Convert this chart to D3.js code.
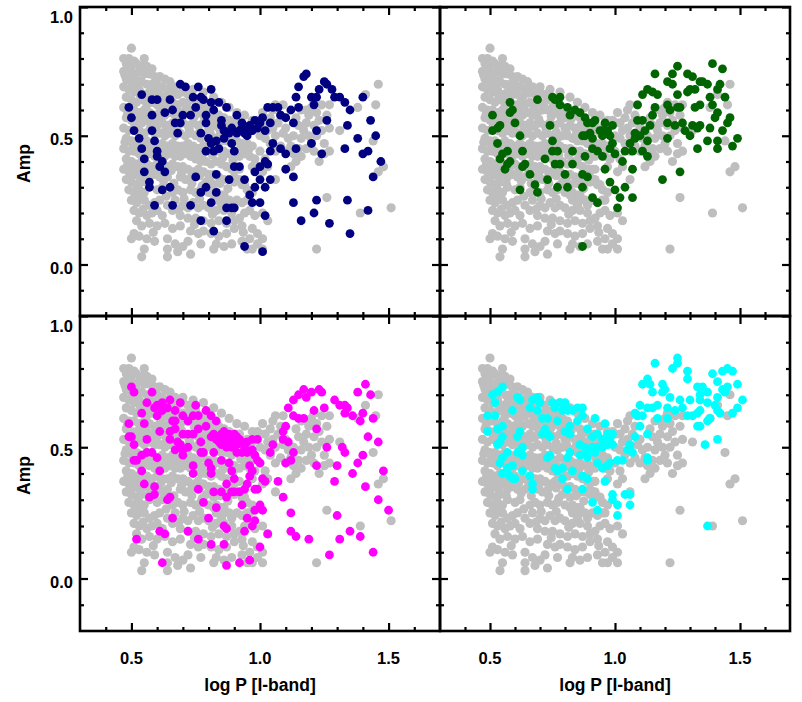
<!DOCTYPE html>
<html><head><meta charset="utf-8">
<script src="https://cdn.jsdelivr.net/npm/d3@7"></script>
<style>
body{margin:0;background:#fff}
svg{display:block}
text{font-family:"Liberation Sans",Arial,Helvetica,sans-serif;font-weight:bold;fill:#000}
</style>
</head><body>
<svg id="c" width="802" height="702"></svg>
<script>
// ---- data: [log P, Amp] ----
const grayPts = [
[0.50,0.84],[0.55,0.80],
[0.47,0.80],[0.49,0.80],[0.51,0.79],[0.48,0.78],[0.50,0.77],[0.52,0.78],[0.54,0.77],[0.56,0.77],[0.58,0.76],
[0.47,0.75],[0.49,0.75],[0.51,0.74],[0.53,0.75],[0.55,0.74],[0.57,0.74],[0.59,0.73],[0.61,0.73],[0.63,0.72],[0.65,0.71],
[0.48,0.72],[0.50,0.71],[0.52,0.72],[0.54,0.71],[0.56,0.70],[0.58,0.70],[0.60,0.70],[0.62,0.69],[0.64,0.68],[0.67,0.69],
[0.47,0.69],[0.49,0.68],[0.51,0.67],[0.53,0.68],[0.55,0.66],[0.57,0.67],[0.59,0.66],[0.61,0.66],[0.63,0.65],[0.68,0.66],[0.70,0.67],[0.72,0.66],
[0.48,0.65],[0.50,0.64],[0.52,0.63],[0.54,0.64],[0.56,0.62],[0.58,0.63],[0.60,0.62],[0.62,0.61],[0.64,0.62],[0.66,0.63],[0.68,0.62],[0.70,0.63],[0.73,0.64],[0.75,0.64],[0.77,0.62],[0.79,0.61],[0.81,0.60],
[0.70,0.69],[0.74,0.68],[0.78,0.67],[0.82,0.65],[0.85,0.63],[0.88,0.61],[0.91,0.59],[0.94,0.58],[0.97,0.56],[1.00,0.55],
[0.47,0.61],[0.49,0.60],[0.51,0.60],[0.53,0.59],[0.55,0.60],[0.57,0.59],[0.59,0.58],[0.61,0.59],[0.63,0.58],[0.65,0.59],[0.67,0.58],[0.69,0.59],[0.71,0.60],[0.73,0.60],[0.75,0.61],[0.76,0.59],[0.78,0.58],[0.80,0.57],[0.82,0.58],[0.84,0.58],[0.86,0.57],[0.88,0.56],[0.90,0.55],[0.92,0.55],
[0.48,0.57],[0.50,0.56],[0.52,0.56],[0.54,0.55],[0.56,0.56],[0.58,0.55],[0.60,0.54],[0.62,0.55],[0.64,0.54],[0.66,0.55],[0.68,0.54],[0.70,0.55],[0.72,0.54],[0.74,0.55],[0.76,0.54],[0.78,0.55],[0.80,0.53],[0.82,0.54],[0.84,0.53],[0.86,0.53],[0.88,0.52],[0.90,0.52],[0.93,0.52],[0.95,0.53],[0.97,0.52],
[0.47,0.53],[0.49,0.52],[0.51,0.53],[0.53,0.52],[0.55,0.51],[0.57,0.52],[0.59,0.51],[0.61,0.51],[0.63,0.50],[0.65,0.51],[0.67,0.50],[0.69,0.51],[0.71,0.50],[0.73,0.51],[0.75,0.50],[0.77,0.49],[0.79,0.50],[0.81,0.50],[0.83,0.49],[0.85,0.48],[0.87,0.48],[0.89,0.47],[0.91,0.48],[0.93,0.47],[0.95,0.47],[0.97,0.46],
[0.48,0.49],[0.50,0.48],[0.52,0.48],[0.54,0.47],[0.56,0.48],[0.58,0.47],[0.60,0.46],[0.62,0.47],[0.64,0.46],[0.66,0.47],[0.68,0.46],[0.70,0.46],[0.72,0.47],[0.74,0.46],[0.76,0.45],[0.78,0.46],[0.80,0.45],[0.82,0.45],[0.84,0.44],[0.86,0.44],[0.88,0.43],[0.90,0.43],[0.92,0.42],[0.94,0.43],[0.96,0.42],
[0.47,0.45],[0.49,0.44],[0.51,0.44],[0.53,0.43],[0.55,0.44],[0.57,0.43],[0.59,0.42],[0.61,0.43],[0.63,0.42],[0.65,0.43],[0.67,0.42],[0.69,0.42],[0.71,0.43],[0.73,0.42],[0.75,0.41],[0.77,0.40],[0.79,0.40],[0.81,0.39],[0.83,0.40],[0.85,0.39],[0.87,0.38],[0.89,0.37],[0.92,0.37],
[0.48,0.41],[0.50,0.40],[0.52,0.39],[0.54,0.40],[0.56,0.39],[0.58,0.38],[0.60,0.39],[0.62,0.38],[0.64,0.38],[0.66,0.39],[0.68,0.38],[0.70,0.38],[0.72,0.37],[0.74,0.36],[0.76,0.37],[0.78,0.36],[0.80,0.35],[0.82,0.35],[0.84,0.34],[0.86,0.33],[0.88,0.33],[0.90,0.32],[0.93,0.31],
[0.47,0.37],[0.49,0.36],[0.51,0.36],[0.53,0.35],[0.55,0.36],[0.57,0.34],[0.59,0.35],[0.61,0.34],[0.64,0.34],[0.69,0.34],[0.71,0.33],
[0.91,0.37],[0.90,0.34],[0.92,0.33],[0.94,0.31],[0.95,0.29],[0.97,0.28],[0.95,0.25],[0.93,0.24],[0.91,0.25],[0.89,0.23],[0.85,0.23],[0.83,0.25],[0.85,0.27],[0.83,0.28],[0.82,0.31],[0.79,0.32],
[0.48,0.33],[0.50,0.32],[0.52,0.31],[0.54,0.32],[0.49,0.29],[0.51,0.28],[0.53,0.29],[0.55,0.28],[0.57,0.30],[0.60,0.29],[0.62,0.30],[0.66,0.28],[0.68,0.29],[0.70,0.28],[0.73,0.29],[0.75,0.28],[0.77,0.29],[0.80,0.28],[0.82,0.27],[0.86,0.27],[0.88,0.25],[0.96,0.25],
[0.50,0.25],[0.52,0.24],[0.55,0.25],[0.57,0.23],[0.59,0.24],[0.61,0.25],[0.64,0.23],[0.67,0.25],[0.70,0.23],[0.72,0.22],[0.74,0.24],[0.76,0.22],[0.78,0.23],[0.80,0.22],[0.83,0.21],[0.86,0.21],[0.89,0.20],
[0.51,0.21],[0.53,0.20],[0.56,0.19],[0.58,0.20],[0.60,0.21],[0.62,0.19],[0.66,0.21],[0.69,0.19],[0.72,0.18],[0.75,0.18],[0.78,0.17],[0.81,0.16],[0.84,0.17],[0.87,0.16],[0.90,0.17],[0.92,0.18],[0.94,0.20],[0.96,0.21],[0.98,0.19],[1.01,0.20],[1.03,0.17],
[0.52,0.17],[0.54,0.15],[0.57,0.16],[0.60,0.15],[0.63,0.16],[0.66,0.14],[0.69,0.15],[0.73,0.13],[0.76,0.12],[0.78,0.13],[0.81,0.12],[0.84,0.11],[0.87,0.12],[0.90,0.14],[0.93,0.15],[0.97,0.14],[0.99,0.12],[1.01,0.10],
[0.51,0.12],[0.50,0.10],[0.53,0.11],[0.56,0.10],[0.59,0.09],[0.64,0.10],[0.67,0.08],[0.70,0.07],[0.72,0.09],[0.83,0.08],[0.86,0.07],[0.89,0.08],[0.93,0.09],[0.96,0.10],[0.99,0.08],[1.01,0.06],[0.97,0.06],[0.95,0.06],
[0.55,0.06],[0.54,0.03],[0.64,0.06],[0.64,0.03],[0.68,0.05],[0.73,0.04],[0.77,0.08],[0.82,0.06],
[0.475,0.735],[0.495,0.715],[0.515,0.695],[0.535,0.655],[0.565,0.645],[0.595,0.685],[0.625,0.635],[0.655,0.665],[0.675,0.605],[0.715,0.625],[0.745,0.575],[0.785,0.595],[0.825,0.565],[0.865,0.545],[0.905,0.535],[0.945,0.505],
[0.485,0.585],[0.515,0.545],[0.545,0.575],[0.575,0.535],[0.605,0.565],[0.635,0.525],[0.665,0.535],[0.695,0.565],[0.725,0.525],[0.765,0.515],[0.805,0.515],[0.845,0.505],[0.885,0.485],[0.925,0.455],[0.955,0.445],
[0.475,0.475],[0.505,0.465],[0.535,0.455],[0.565,0.455],[0.595,0.445],[0.625,0.445],[0.655,0.445],[0.685,0.445],[0.715,0.445],[0.745,0.435],[0.775,0.425],[0.815,0.425],[0.855,0.415],[0.895,0.405],
[0.485,0.385],[0.515,0.375],[0.545,0.375],[0.575,0.365],[0.615,0.365],[0.655,0.365],[0.695,0.355],[0.735,0.345],[0.765,0.345],[0.805,0.335],[0.845,0.315],[0.875,0.295],
[0.505,0.345],[0.535,0.335],[0.565,0.315],[0.625,0.325],[0.665,0.315],[0.735,0.315],[0.775,0.305],
[0.525,0.265],[0.635,0.265],[0.705,0.255],[0.765,0.255],[0.855,0.245],[0.545,0.215],[0.685,0.215],[0.815,0.195],[0.585,0.125],[0.745,0.155],[0.935,0.125],
[1.02,0.55],[1.04,0.57],[1.05,0.53],[1.06,0.50],[1.07,0.55],[1.08,0.58],[1.09,0.62],[1.10,0.53],[1.11,0.49],[1.12,0.46],[1.13,0.43],[1.14,0.40],[1.12,0.38],[1.15,0.45],[1.16,0.49],[1.17,0.52],[1.18,0.55],[1.19,0.58],[1.20,0.61],[1.21,0.63],[1.22,0.59],[1.23,0.56],[1.24,0.52],[1.22,0.50],[1.20,0.47],[1.18,0.45],[1.16,0.42],[1.19,0.50],[1.25,0.43],[1.27,0.44],[1.23,0.40],[1.24,0.62],[1.26,0.58],[1.27,0.53],[1.10,0.44],[1.08,0.46],[1.06,0.44],[1.04,0.47],[1.02,0.49],[1.00,0.50],[0.99,0.56],[1.01,0.59],[1.05,0.60],[1.06,0.62],[1.14,0.57],[1.16,0.60],[1.27,0.62],
[1.03,0.52],[1.09,0.51],[1.13,0.50],[1.15,0.54],[1.21,0.54],[1.18,0.60],[1.25,0.47],[1.21,0.44],
[1.02,0.41],[1.03,0.38],[1.01,0.36],[1.06,0.33],[1.00,0.44],[0.98,0.41],[0.97,0.38],
[1.31,0.52],[1.46,0.70],[1.41,0.66],[1.45,0.62],[1.38,0.61],[1.44,0.48],[1.46,0.36],[1.48,0.38],[1.51,0.22],[1.39,0.20],[1.26,0.26],[1.22,0.06]
];
const navyPts = [
[0.54,0.66],[0.49,0.61],[0.50,0.57],[0.51,0.52],[0.53,0.49],[0.54,0.45],[0.55,0.41],[0.55,0.36],[0.57,0.32],[0.57,0.30],[0.59,0.23],[0.58,0.58],[0.58,0.52],[0.59,0.48],[0.60,0.44],[0.60,0.42],[0.62,0.40],[0.61,0.38],[0.63,0.36],[0.62,0.29],[0.65,0.30],[0.66,0.23],[0.58,0.64],[0.60,0.64],[0.63,0.59],[0.65,0.64],[0.66,0.60],[0.67,0.55],[0.69,0.55],[0.68,0.51],[0.69,0.70],[0.71,0.69],[0.70,0.58],[0.73,0.58],[0.74,0.65],[0.76,0.69],[0.77,0.65],[0.75,0.61],[0.78,0.64],[0.79,0.58],[0.79,0.55],[0.77,0.51],[0.80,0.49],[0.81,0.68],[0.81,0.63],[0.82,0.60],[0.84,0.63],[0.85,0.56],[0.87,0.61],[0.91,0.58],[0.82,0.44],[0.81,0.47],[0.83,0.48],[0.86,0.49],[0.88,0.51],[0.89,0.47],[0.90,0.44],[0.91,0.51],[0.93,0.53],[0.94,0.51],[0.96,0.54],[0.97,0.52],[0.98,0.56],[1.00,0.55],[1.01,0.57],[1.02,0.52],[1.04,0.55],[1.03,0.61],[1.05,0.61],[1.07,0.61],[1.08,0.58],[1.10,0.57],[1.13,0.55],[1.12,0.60],[1.15,0.61],[1.14,0.65],[1.15,0.69],[1.17,0.73],[1.18,0.74],[1.20,0.65],[1.21,0.62],[1.22,0.65],[1.23,0.68],[1.25,0.71],[1.26,0.70],[1.28,0.68],[1.29,0.65],[1.31,0.65],[1.33,0.63],[1.35,0.60],[1.40,0.65],[1.43,0.56],[1.26,0.56],[1.22,0.52],[1.20,0.47],[1.14,0.45],[1.24,0.43],[1.33,0.45],[1.34,0.54],[1.38,0.49],[1.45,0.50],[1.40,0.43],[1.42,0.44],[1.47,0.40],[1.44,0.34],[1.42,0.21],[1.34,0.25],[1.35,0.12],[1.27,0.16],[1.21,0.20],[1.22,0.25],[1.16,0.17],[1.13,0.24],[1.13,0.34],[1.10,0.37],[1.10,0.43],[1.05,0.47],[1.08,0.45],[1.04,0.44],[1.03,0.39],[1.02,0.40],[1.00,0.38],[0.98,0.36],[1.00,0.33],[1.02,0.30],[1.04,0.33],[0.98,0.30],[0.96,0.27],[0.97,0.24],[1.00,0.24],[1.02,0.19],[1.01,0.05],[0.94,0.07],[0.87,0.17],[0.87,0.22],[0.90,0.22],[0.88,0.33],[0.90,0.38],[0.92,0.38],[0.94,0.33],[0.89,0.22],[0.83,0.28],[0.83,0.35],[0.79,0.30],[0.77,0.28],[0.75,0.34],[0.81,0.24],[0.82,0.13],[0.77,0.17],[0.73,0.23],[0.85,0.54],[0.84,0.45],[0.79,0.44],
[0.92,0.52],[0.95,0.50],[0.96,0.52],[0.99,0.53],[0.93,0.55],[0.86,0.52],[0.89,0.53]
];
const greenPts = [
[0.51,0.58],[0.51,0.52],[0.53,0.53],[0.54,0.54],[0.53,0.47],[0.58,0.63],[0.59,0.60],[0.58,0.59],[0.60,0.55],[0.62,0.50],[0.63,0.44],[0.57,0.44],[0.55,0.43],[0.54,0.41],[0.58,0.40],[0.57,0.39],[0.56,0.37],[0.64,0.39],[0.63,0.38],[0.66,0.35],[0.68,0.31],[0.62,0.29],[0.69,0.28],[0.69,0.64],[0.74,0.54],[0.75,0.48],[0.75,0.44],[0.77,0.44],[0.76,0.39],[0.78,0.39],[0.73,0.33],[0.77,0.30],[0.80,0.35],[0.81,0.30],[0.83,0.44],[0.83,0.39],[0.75,0.65],[0.76,0.64],[0.78,0.65],[0.78,0.62],[0.81,0.61],[0.82,0.58],[0.84,0.60],[0.86,0.59],[0.88,0.57],[0.89,0.55],[0.91,0.55],[0.92,0.56],[0.88,0.50],[0.90,0.51],[0.91,0.45],[0.93,0.44],[0.95,0.50],[0.94,0.52],[0.96,0.55],[0.97,0.52],[0.99,0.54],[0.98,0.50],[0.99,0.47],[0.98,0.45],[0.88,0.42],[0.87,0.35],[0.89,0.34],[0.87,0.30],[0.91,0.26],[0.93,0.24],[0.95,0.42],[0.96,0.37],[0.98,0.32],[1.00,0.43],[1.03,0.40],[1.00,0.29],[1.04,0.30],[1.02,0.26],[1.01,0.22],[1.07,0.26],[1.07,0.37],[1.04,0.44],[1.07,0.44],[1.06,0.47],[1.08,0.49],[1.08,0.51],[1.10,0.50],[1.11,0.44],[1.13,0.42],[1.13,0.48],[1.12,0.52],[1.14,0.54],[1.09,0.56],[1.11,0.56],[1.15,0.58],[1.09,0.62],[1.16,0.61],[1.11,0.66],[1.13,0.68],[1.15,0.67],[1.17,0.66],[1.16,0.74],[1.21,0.71],[1.23,0.74],[1.25,0.77],[1.23,0.70],[1.25,0.66],[1.21,0.62],[1.22,0.60],[1.25,0.61],[1.26,0.61],[1.21,0.55],[1.21,0.49],[1.24,0.54],[1.27,0.55],[1.26,0.36],[1.19,0.33],[1.28,0.52],[1.30,0.50],[1.31,0.54],[1.33,0.53],[1.34,0.54],[1.33,0.45],[1.37,0.48],[1.38,0.53],[1.41,0.59],[1.40,0.57],[1.39,0.62],[1.41,0.48],[1.41,0.45],[1.43,0.52],[1.45,0.55],[1.46,0.57],[1.47,0.46],[1.49,0.49],[1.44,0.65],[1.42,0.70],[1.41,0.68],[1.37,0.70],[1.35,0.71],[1.34,0.71],[1.31,0.73],[1.29,0.74],[1.30,0.68],[1.29,0.67],[1.32,0.68],[1.38,0.65],[1.39,0.78],[1.43,0.76],[1.34,0.62],[1.32,0.61],[0.87,0.07],[0.72,0.41],[0.87,0.50],[0.91,0.49],[0.95,0.52]
];
const magentaPts = [
[0.50,0.73],[0.51,0.71],[0.58,0.71],[0.56,0.67],[0.54,0.63],[0.55,0.59],[0.49,0.59],[0.49,0.54],[0.51,0.51],[0.50,0.54],[0.56,0.53],[0.61,0.56],[0.60,0.62],[0.59,0.65],[0.62,0.67],[0.65,0.68],[0.64,0.65],[0.67,0.64],[0.69,0.67],[0.70,0.62],[0.72,0.60],[0.74,0.62],[0.75,0.66],[0.76,0.62],[0.79,0.64],[0.81,0.62],[0.83,0.60],[0.79,0.58],[0.76,0.57],[0.74,0.55],[0.72,0.55],[0.70,0.55],[0.67,0.57],[0.65,0.56],[0.66,0.60],[0.77,0.52],[0.81,0.54],[0.82,0.55],[0.83,0.53],[0.85,0.55],[0.86,0.52],[0.87,0.54],[0.89,0.52],[0.90,0.55],[0.92,0.53],[0.93,0.52],[0.95,0.52],[0.85,0.51],[0.87,0.50],[0.89,0.50],[0.91,0.48],[0.93,0.48],[0.95,0.48],[0.97,0.49],[0.99,0.53],[0.98,0.47],[0.99,0.45],[0.96,0.43],[0.97,0.41],[0.96,0.39],[0.95,0.36],[0.98,0.34],[0.99,0.34],[1.01,0.38],[1.02,0.37],[0.94,0.34],[0.92,0.33],[0.90,0.33],[0.89,0.33],[0.87,0.31],[0.85,0.33],[0.82,0.33],[0.85,0.45],[0.88,0.44],[0.89,0.41],[0.90,0.38],[0.87,0.36],[0.81,0.40],[0.80,0.44],[0.81,0.42],[0.82,0.48],[0.78,0.48],[0.77,0.48],[0.74,0.43],[0.74,0.40],[0.76,0.34],[0.78,0.29],[0.83,0.27],[0.80,0.23],[0.76,0.15],[0.72,0.18],[0.81,0.13],[0.86,0.13],[0.87,0.05],[0.87,0.19],[0.86,0.20],[0.93,0.28],[0.95,0.23],[0.97,0.20],[0.98,0.22],[0.94,0.18],[1.00,0.28],[0.98,0.26],[1.01,0.26],[1.03,0.17],[1.00,0.12],[0.96,0.07],[0.92,0.06],[0.66,0.23],[0.61,0.18],[0.63,0.17],[0.52,0.15],[0.62,0.06],[0.57,0.31],[0.59,0.32],[0.64,0.30],[0.65,0.31],[0.55,0.36],[0.59,0.35],[0.54,0.41],[0.61,0.41],[0.52,0.45],[0.54,0.47],[0.56,0.48],[0.58,0.48],[0.60,0.46],[0.51,0.45],[0.68,0.52],[0.69,0.51],[0.70,0.49],[0.72,0.50],[0.70,0.47],[0.67,0.49],[0.65,0.53],[0.67,0.60],[0.60,0.66],[0.62,0.64],[1.05,0.51],[1.04,0.48],[1.07,0.37],[1.09,0.31],[1.12,0.25],[1.12,0.18],[1.14,0.16],[1.19,0.15],[1.27,0.09],[1.30,0.24],[1.31,0.15],[1.35,0.18],[1.39,0.16],[1.44,0.10],[1.50,0.26],[1.46,0.30],[1.41,0.35],[1.48,0.41],[1.38,0.44],[1.40,0.47],[1.36,0.40],[1.33,0.48],[1.32,0.50],[1.30,0.43],[1.26,0.50],[1.22,0.43],[1.29,0.37],[1.46,0.52],[1.42,0.54],[1.44,0.61],[1.40,0.63],[1.39,0.60],[1.36,0.62],[1.34,0.65],[1.33,0.66],[1.31,0.66],[1.33,0.63],[1.29,0.68],[1.25,0.65],[1.21,0.64],[1.22,0.57],[1.24,0.71],[1.23,0.72],[1.20,0.71],[1.17,0.72],[1.18,0.69],[1.15,0.70],[1.13,0.68],[1.11,0.65],[1.13,0.62],[1.15,0.61],[1.17,0.61],[1.10,0.58],[1.09,0.56],[1.09,0.53],[1.11,0.52],[1.13,0.48],[1.12,0.45],[1.10,0.44],[1.41,0.74],[1.38,0.71],[1.43,0.70],[1.00,0.44],
[0.86,0.56],[0.88,0.55],[0.91,0.54],[0.84,0.52],[0.88,0.53],[0.91,0.51],[0.94,0.50],[0.97,0.53]
];
const cyanPts = [
[0.51,0.70],[0.53,0.71],[0.55,0.73],[0.52,0.67],[0.49,0.62],[0.52,0.62],[0.49,0.56],[0.53,0.57],[0.55,0.58],[0.59,0.64],[0.61,0.69],[0.62,0.68],[0.66,0.65],[0.67,0.68],[0.69,0.69],[0.70,0.67],[0.69,0.64],[0.71,0.61],[0.73,0.61],[0.75,0.67],[0.76,0.65],[0.78,0.67],[0.80,0.67],[0.81,0.65],[0.79,0.64],[0.81,0.64],[0.77,0.60],[0.83,0.64],[0.85,0.65],[0.87,0.65],[0.87,0.62],[0.85,0.60],[0.82,0.58],[0.80,0.56],[0.82,0.55],[0.92,0.61],[0.96,0.59],[0.89,0.57],[0.91,0.54],[0.93,0.55],[0.95,0.53],[0.97,0.55],[0.99,0.55],[0.98,0.53],[0.99,0.51],[0.97,0.51],[0.95,0.50],[0.93,0.50],[0.91,0.50],[0.88,0.50],[0.89,0.48],[0.92,0.48],[0.89,0.46],[0.86,0.47],[0.82,0.48],[0.81,0.46],[0.74,0.54],[0.73,0.55],[0.71,0.55],[0.72,0.57],[0.62,0.56],[0.61,0.54],[0.55,0.54],[0.54,0.52],[0.53,0.51],[0.63,0.50],[0.61,0.48],[0.63,0.47],[0.57,0.48],[0.55,0.46],[0.54,0.44],[0.59,0.43],[0.57,0.42],[0.55,0.40],[0.58,0.39],[0.60,0.38],[0.59,0.38],[0.63,0.41],[0.66,0.39],[0.67,0.36],[0.67,0.34],[0.73,0.46],[0.74,0.47],[0.76,0.42],[0.77,0.41],[0.79,0.42],[0.79,0.38],[0.81,0.34],[0.83,0.41],[0.87,0.39],[0.89,0.38],[0.87,0.34],[0.93,0.44],[0.95,0.42],[0.97,0.43],[0.98,0.44],[1.01,0.45],[1.03,0.45],[0.96,0.37],[0.99,0.32],[0.99,0.30],[1.01,0.28],[1.04,0.32],[1.06,0.32],[1.06,0.28],[1.01,0.24],[0.91,0.29],[0.93,0.26],[0.86,0.51],
[1.05,0.49],[1.07,0.48],[1.06,0.51],[1.08,0.54],[1.13,0.46],[1.13,0.45],[1.13,0.55],[1.10,0.58],[1.08,0.63],[1.09,0.62],[1.11,0.62],[1.10,0.66],[1.13,0.65],[1.15,0.65],[1.17,0.66],[1.17,0.61],[1.21,0.61],[1.21,0.65],[1.24,0.64],[1.26,0.68],[1.27,0.65],[1.29,0.62],[1.31,0.62],[1.33,0.63],[1.34,0.64],[1.37,0.60],[1.38,0.61],[1.41,0.64],[1.42,0.63],[1.40,0.66],[1.37,0.67],[1.34,0.68],[1.30,0.68],[1.33,0.58],[1.34,0.58],[1.36,0.51],[1.41,0.53],[1.37,0.20],[1.47,0.63],[1.49,0.65],[1.51,0.68],[1.41,0.69],[1.43,0.72],[1.44,0.71],[1.45,0.73],[1.49,0.74],[1.47,0.79],[1.45,0.80],[1.43,0.79],[1.41,0.75],[1.39,0.78],[1.35,0.73],[1.33,0.73],[1.37,0.71],[1.34,0.70],[1.29,0.79],[1.29,0.76],[1.25,0.84],[1.25,0.82],[1.23,0.80],[1.16,0.82],[1.22,0.69],[1.19,0.74],[1.20,0.72],[1.19,0.71],[1.15,0.71],[1.14,0.74],[1.13,0.76],[1.11,0.74]
];
const seriesPts = [navyPts, greenPts, magentaPts, cyanPts];
const seriesColors = ["#000080", "#006400", "#ff00ff", "#00ffff"];
const grayColor = "#bebebe";
const xDomain = [0.3, 1.7];
const yDomain = [-0.2, 1.0];
const xMajor = [0.5, 1.0, 1.5];
const xMinor = [0.4, 0.6, 0.7, 0.8, 0.9, 1.1, 1.2, 1.3, 1.4, 1.6];
const yMajor = [0.0, 0.5, 1.0];
const yMinor = [-0.1, 0.1, 0.2, 0.3, 0.4, 0.6, 0.7, 0.8, 0.9];
const xTickLabels = ["0.5", "1.0", "1.5"];
const yTickLabels = ["0.0", "0.5", "1.0"];
const xTitle = "log P [I-band]";
const yTitle = "Amp";

// ---- layout ----
const panels = [
  {x: [80, 440], y: [7, 316], left: true,  bottom: false},
  {x: [440, 790], y: [7, 316], left: false, bottom: false},
  {x: [80, 440], y: [316, 631], left: true,  bottom: true},
  {x: [440, 790], y: [316, 631], left: false, bottom: true}
];
const R = 4.6;
const svg = d3.select("#c");

panels.forEach((P, i) => {
  const x = d3.scaleLinear().domain(xDomain).range(P.x);
  const y = d3.scaleLinear().domain(yDomain).range([P.y[1], P.y[0]]);
  const g = svg.append("g");

  g.append("g").selectAll("circle").data(grayPts).join("circle")
    .attr("cx", d => x(d[0])).attr("cy", d => y(d[1])).attr("r", R).attr("fill", grayColor);
  g.append("g").selectAll("circle").data(seriesPts[i]).join("circle")
    .attr("cx", d => x(d[0])).attr("cy", d => y(d[1])).attr("r", R - 0.2).attr("fill", seriesColors[i]);

  const axis = (gen, tx, ty, vals, len) => {
    g.append("g").attr("transform", `translate(${tx},${ty})`)
      .call(gen.tickValues(vals).tickSize(len).tickFormat(""))
      .call(s => s.select(".domain").remove())
      .selectAll("line").attr("stroke", "#000").attr("stroke-width", 2.2);
  };
  [[xMinor, -4], [xMajor, -8]].forEach(([v, l]) => {
    axis(d3.axisBottom(x), 0, P.y[1], v, l);
    axis(d3.axisTop(x), 0, P.y[0], v, l);
  });
  [[yMinor, -4], [yMajor, -8]].forEach(([v, l]) => {
    axis(d3.axisLeft(y), P.x[0], 0, v, l);
    axis(d3.axisRight(y), P.x[1], 0, v, l);
  });

  g.append("rect").attr("x", P.x[0]).attr("y", P.y[0])
    .attr("width", P.x[1] - P.x[0]).attr("height", P.y[1] - P.y[0])
    .attr("fill", "none").attr("stroke", "#000").attr("stroke-width", 2.6);

  if (P.bottom) {
    g.selectAll("text.xt").data(xMajor).join("text").attr("class", "xt")
      .attr("x", d => x(d)).attr("y", P.y[1] + 32.5)
      .attr("text-anchor", "middle").attr("font-size", 16.5)
      .text((d, k) => xTickLabels[k]);
    g.append("text").attr("x", x(1.0)).attr("y", P.y[1] + 59.5)
      .attr("text-anchor", "middle").attr("font-size", 17.5).text(xTitle);
  }
  if (P.left) {
    g.selectAll("text.yt").data(yMajor).join("text").attr("class", "yt")
      .attr("x", P.x[0] - 7).attr("y", d => y(d) + (d === 1.0 ? 16 : 9))
      .attr("text-anchor", "end").attr("font-size", 16.5)
      .text((d, k) => yTickLabels[k]);
    const my = (P.y[0] + P.y[1]) / 2 + 2;
    g.append("text").attr("transform", `translate(30,${my}) rotate(-90)`)
      .attr("text-anchor", "middle").attr("font-size", 17.5).text(yTitle);
  }
});
</script>
</body></html>
